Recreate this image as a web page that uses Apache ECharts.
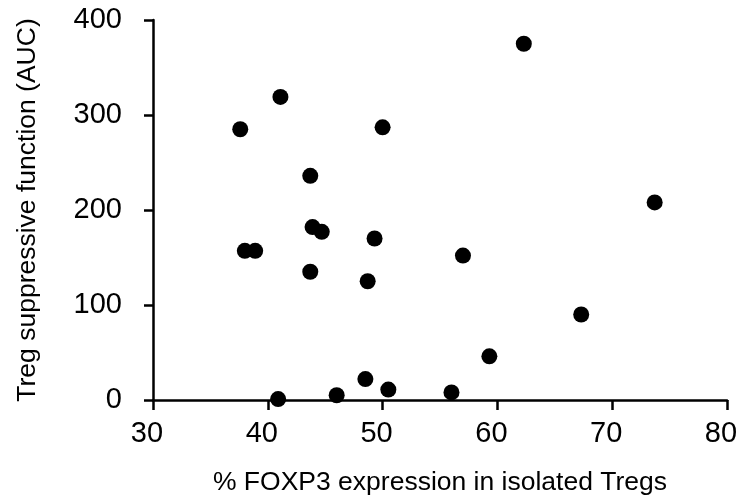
<!DOCTYPE html>
<html>
<head>
<meta charset="utf-8">
<script src="https://cdn.jsdelivr.net/npm/echarts@6/dist/echarts.min.js"></script>
<style>html,body{margin:0;padding:0;background:#fff}#c{width:740px;height:499px}</style>
</head>
<body>
<div id="c"></div>
<script>
const foxp3 = [41.1, 37.6, 50.0, 43.7, 38.0, 38.9, 43.9, 44.7, 49.3, 43.7, 48.7, 40.9, 46.0, 48.5, 50.5, 62.3, 73.7, 57.0, 67.3, 59.3, 56.0];
const auc   = [319, 285, 287, 236, 157, 157, 182, 177, 170, 135, 125, 1, 5, 22, 11, 375, 208, 152, 90, 46, 8];
const xTicks = [30, 40, 50, 60, 70, 80];
const yTicks = [0, 100, 200, 300, 400];
const xTitle = '% FOXP3 expression in isolated Tregs';
const yTitle = 'Treg suppressive function (AUC)';

const points = foxp3.map((v, i) => [v, auc[i]]);
const font = 'Liberation Sans, Arial, sans-serif';
const chart = echarts.init(document.getElementById('c'), null, {renderer: 'canvas'});
chart.setOption({
  animation: false,
  backgroundColor: '#fff',
  grid: {left: 153, right: 13, top: 20, bottom: 99, containLabel: false, outerBoundsMode: 'none'},
  xAxis: {
    type: 'value', min: xTicks[0], max: xTicks[xTicks.length - 1], interval: 10,
    name: xTitle, nameLocation: 'middle', nameGap: 69,
    nameTextStyle: {fontFamily: font, fontSize: 26.5, color: '#000'},
    axisLine: {show: true, onZero: false, lineStyle: {color: '#000', width: 2.5}},
    axisTick: {show: true, inside: false, length: 10, lineStyle: {color: '#000', width: 2.5}},
    axisLabel: {fontFamily: font, fontSize: 29, color: '#000', margin: 19, padding: [0, 12, 0, 0]},
    splitLine: {show: false}
  },
  yAxis: {
    type: 'value', min: yTicks[0], max: yTicks[yTicks.length - 1], interval: 100,
    name: yTitle, nameLocation: 'middle', nameGap: 112, nameRotate: 90,
    nameTextStyle: {fontFamily: font, fontSize: 26.5, color: '#000'},
    axisLine: {show: true, onZero: false, lineStyle: {color: '#000', width: 2.5}},
    axisTick: {show: true, inside: false, length: 9, lineStyle: {color: '#000', width: 2.5}},
    axisLabel: {fontFamily: font, fontSize: 29, color: '#000', margin: 31},
    splitLine: {show: false}
  },
  series: [{
    type: 'scatter', data: points, symbol: 'circle', symbolSize: 16,
    itemStyle: {color: '#000', opacity: 1}
  }]
});
</script>
</body>
</html>
